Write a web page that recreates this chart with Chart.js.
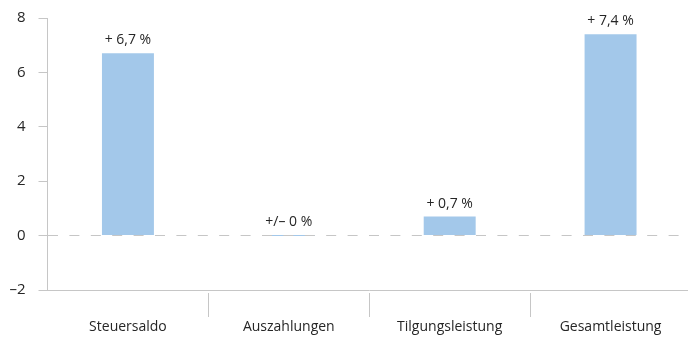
<!DOCTYPE html>
<html>
<head>
<meta charset="utf-8">
<script src="https://cdn.jsdelivr.net/npm/chart.js@4"></script>
<style>
  html, body { margin: 0; padding: 0; background: #fff; overflow: hidden; }
  #wrap { width: 691px; height: 338px; position: relative; }
</style>
</head>
<body>
<div id="wrap"><canvas id="c"></canvas></div>
<script>
const categories = ['Steuersaldo', 'Auszahlungen', 'Tilgungsleistung', 'Gesamtleistung'];
const values = [6.7, 0, 0.7, 7.4];
const valueLabels = ['+ 6,7 %', '+/\u2013 0 %', '+ 0,7 %', '+ 7,4 %'];
const yTicks = [-2, 0, 2, 4, 6, 8];
const yTickLabels = ['\u20132', '0', '2', '4', '6', '8'];

const FONT = '"Open Sans", sans-serif';
const TEXT = '#262626';
const GRID = '#c6c6c6';

const valueLabelPlugin = {
  id: 'valueLabels',
  afterDatasetsDraw(chart) {
    const ctx = chart.ctx;
    const meta = chart.getDatasetMeta(0);
    ctx.save();
    ctx.font = '14px ' + FONT;
    ctx.fillStyle = TEXT;
    ctx.textAlign = 'center';
    ctx.textBaseline = 'alphabetic';
    meta.data.forEach((el, i) => {
      const top = Math.min(el.y, el.base);
      ctx.fillText(valueLabels[i], el.x, top - 9);
    });
    ctx.restore();
  }
};

new Chart(document.getElementById('c'), {
  type: 'bar',
  data: {
    labels: categories,
    datasets: [{
      data: values,
      backgroundColor: '#a3c8ea',
      borderWidth: 0,
      minBarLength: 1,
      barPercentage: 0.323,
      categoryPercentage: 1
    }]
  },
  options: {
    responsive: true,
    maintainAspectRatio: false,
    animation: false,
    layout: { padding: { top: 18, right: 0, bottom: 0, left: 0 } },
    plugins: { legend: { display: false }, tooltip: { enabled: false } },
    scales: {
      x: {
        offset: true,
        border: { display: true, color: GRID, width: 1 },
        grid: {
          offset: true,
          drawOnChartArea: false,
          drawTicks: true,
          tickLength: 27,
          tickColor: (c) => (c.index === undefined || c.index === 0) ? 'rgba(0,0,0,0)' : GRID,
          tickBorderDash: [25, 2],
          tickBorderDashOffset: 25,
          tickWidth: 1
        },
        ticks: { color: TEXT, font: { family: FONT, size: 14 }, padding: 2, maxRotation: 0 },
        afterFit(s) { s.height = 48; }
      },
      y: {
        min: -2, max: 8,
        afterBuildTicks(s) { s.ticks = yTicks.map(v => ({ value: v })); },
        border: { display: true, color: GRID, width: 1, dash: [10, 11.4], dashOffset: 0, z: 1 },
        grid: {
          z: 1,
          drawOnChartArea: true,
          color: (c) => (c.type === 'tick' && c.tick && Math.abs(c.tick.value) < 1e-9) ? GRID : 'rgba(0,0,0,0)',
          lineWidth: 1,
          tickLength: 14,
          tickColor: GRID,
          tickBorderDash: [9, 5],
          tickBorderDashOffset: 9
        },
        ticks: {
          color: TEXT,
          font: { family: FONT, size: 15 },
          padding: 8,
          callback: (v) => yTickLabels[yTicks.indexOf(v)]
        },
        afterFit(s) { s.width = 47.5; }
      }
    }
  },
  plugins: [valueLabelPlugin]
});
</script>
</body>
</html>
